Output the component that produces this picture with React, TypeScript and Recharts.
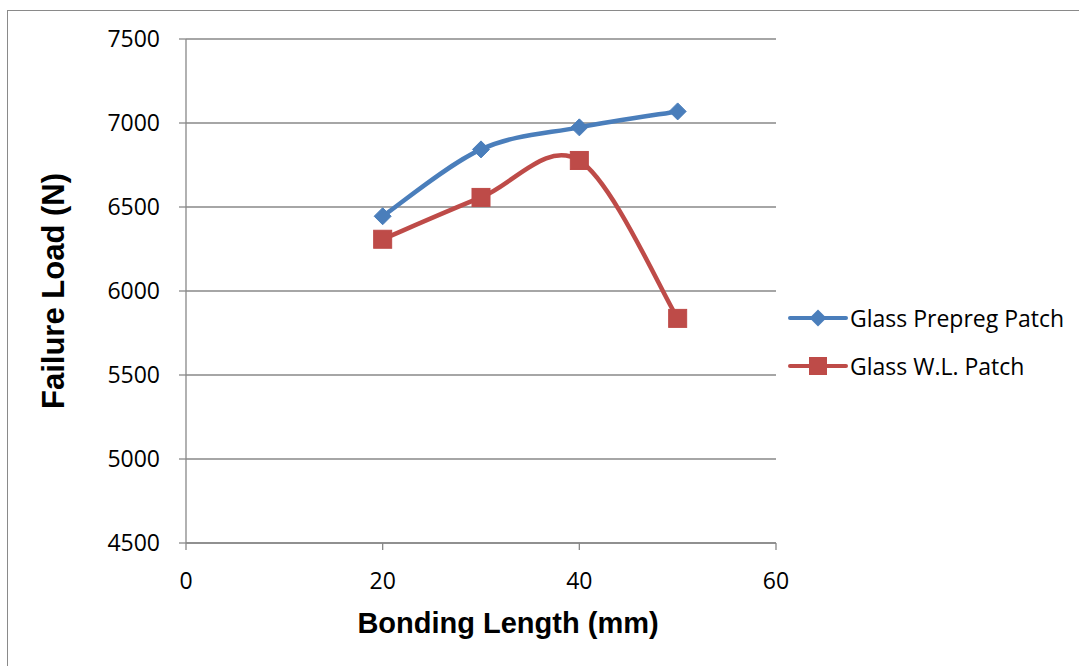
import React from "react";
import { LineChart, Line, XAxis, YAxis, CartesianGrid, Label } from "recharts";

const bondingLength = [20, 30, 40, 50];
const prepregLoad = [6445, 6843, 6974, 7069];
const wlLoad = [6308, 6557, 6777, 5837];
const xTicks = [0, 20, 40, 60];
const yTicks = [4500, 5000, 5500, 6000, 6500, 7000, 7500];
const seriesNames = ["Glass Prepreg Patch", "Glass W.L. Patch"];

const BLUE = "#4a7ebb";
const RED = "#be4b48";
const GRID = "#888888";
const FONT = "'Open Sans', sans-serif";
const BOLD = "'Liberation Sans', Arial, sans-serif";

const data = bondingLength.map((x, i) => ({ x, a: prepregLoad[i], b: wlLoad[i] }));

// Catmull-Rom style smoothing similar to Excel's smoothed lines
function excelSmooth(context: any) {
  let pts: [number, number][] = [];
  return {
    areaStart() {},
    areaEnd() {},
    lineStart() { pts = []; },
    point(x: number, y: number) { pts.push([+x, +y]); },
    lineEnd() {
      const n = pts.length;
      if (n === 0) return;
      context.moveTo(pts[0][0], pts[0][1]);
      for (let i = 0; i < n - 1; i++) {
        const p0 = pts[i - 1] || pts[i];
        const p1 = pts[i];
        const p2 = pts[i + 1];
        const p3 = pts[i + 2] || pts[i + 1];
        const c1x = p1[0] + (p2[0] - p0[0]) / 6;
        const c1y = p1[1] + (p2[1] - p0[1]) / 6;
        const c2x = p2[0] - (p3[0] - p1[0]) / 6;
        const c2y = p2[1] - (p3[1] - p1[1]) / 6;
        context.bezierCurveTo(c1x, c1y, c2x, c2y, p2[0], p2[1]);
      }
    },
  };
}

const Diamond = (props: any) => {
  const { cx, cy } = props;
  if (cx == null || cy == null) return null;
  const r = 8.5;
  return <path d={`M${cx},${cy - r}L${cx + r},${cy}L${cx},${cy + r}L${cx - r},${cy}Z`} fill={BLUE} stroke={BLUE} strokeWidth={1} />;
};

const Square = (props: any) => {
  const { cx, cy } = props;
  if (cx == null || cy == null) return null;
  const s = 9;
  return <rect x={cx - s} y={cy - s} width={2 * s} height={2 * s} fill={RED} stroke={RED} strokeWidth={1} />;
};

const LegendBox = () => (
  <div style={{ position: "absolute", left: 788, top: 294, fontFamily: FONT, fontSize: 23, color: "#000" }}>
    {seriesNames.map((name, i) => (
      <div key={name} style={{ display: "flex", alignItems: "center", height: 48, whiteSpace: "nowrap" }}>
        <svg width={62} height={24}>
          <line x1={2} y1={12} x2={58} y2={12} stroke={i === 0 ? BLUE : RED} strokeWidth={4} strokeLinecap="round" />
          {i === 0 ? (
            <path d="M30,3.5L38.5,12L30,20.5L21.5,12Z" fill={BLUE} />
          ) : (
            <rect x={21} y={3} width={18} height={18} fill={RED} />
          )}
        </svg>
        <span>{name}</span>
      </div>
    ))}
  </div>
);

export default function App() {
  return (
    <div style={{ position: "absolute", left: 0, top: 0, width: 1079, height: 666, overflow: "hidden", background: "#fff" }}>
      <div style={{ position: "absolute", left: 7, top: 10, width: 1200, height: 800, border: "1.5px solid #8a8a8a" }} />
      <div style={{ position: "absolute", left: 0, top: 0 }}>
        <LineChart width={1079} height={666} data={data} margin={{ top: 39, right: 303, bottom: 83, left: 106 }}>
          <CartesianGrid horizontal={true} vertical={false} stroke={GRID} strokeWidth={1.3} />
          <XAxis
            dataKey="x"
            type="number"
            domain={[0, 60]}
            ticks={xTicks}
            height={40}
            axisLine={{ stroke: GRID, strokeWidth: 1.3 }}
            tickLine={{ stroke: GRID, strokeWidth: 1.3 }}
            tickSize={7}
            tick={{ fill: "#000", fontSize: 23, fontFamily: FONT }}
            tickMargin={23}
          >
            <Label
              value="Bonding Length (mm)"
              position="insideBottom"
              offset={-50}
              dx={27}
              style={{ fontFamily: BOLD, fontWeight: "bold", fontSize: 29, fill: "#000" }}
            />
          </XAxis>
          <YAxis
            type="number"
            domain={[4500, 7500]}
            ticks={yTicks}
            width={80}
            axisLine={{ stroke: GRID, strokeWidth: 1.3 }}
            tickLine={{ stroke: GRID, strokeWidth: 1.3 }}
            tickSize={7}
            tickMargin={19}
            tick={{ fill: "#000", fontSize: 23, fontFamily: FONT }}
          >
            <Label
              value="Failure Load (N)"
              angle={-90}
              position="insideLeft"
              offset={-53}
              style={{ textAnchor: "middle", fontFamily: BOLD, fontWeight: "bold", fontSize: 31, fill: "#000" }}
            />
          </YAxis>
          <Line
            name={seriesNames[0]}
            dataKey="a"
            type={excelSmooth as any}
            stroke={BLUE}
            strokeWidth={4.5}
            dot={<Diamond />}
            activeDot={false}
            isAnimationActive={false}
          />
          <Line
            name={seriesNames[1]}
            dataKey="b"
            type={excelSmooth as any}
            stroke={RED}
            strokeWidth={4.5}
            dot={<Square />}
            activeDot={false}
            isAnimationActive={false}
          />
        </LineChart>
      </div>
      <LegendBox />
    </div>
  );
}
